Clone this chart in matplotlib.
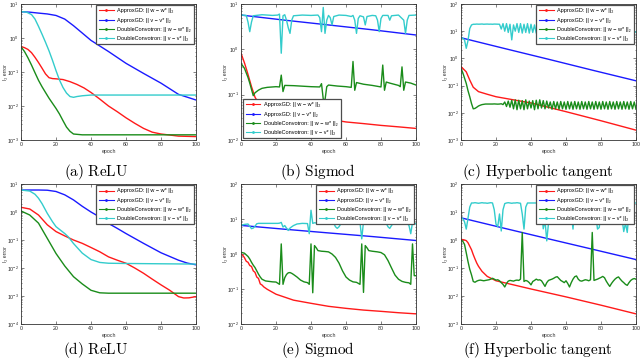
import matplotlib
matplotlib.use('Agg')
import matplotlib.pyplot as plt
from matplotlib.lines import Line2D
from matplotlib.ticker import LogLocator, FixedLocator, NullFormatter
import numpy as np

plt.rcParams['font.family'] = ['Liberation Sans', 'DejaVu Sans']

# ---------------- data ----------------
EPOCH_TICKS = [0, 20, 40, 60, 80, 100]
SERIES_LABELS = ['ApproxGD: || w \u2212 w* ||\u2082',
                 'ApproxGD: || v \u2212 v* ||\u2082',
                 'DoubleConvotron: || w \u2212 w* ||\u2082',
                 'DoubleConvotron: || v \u2212 v* ||\u2082']
CAPTIONS = ['(a) ReLU', '(b) Sigmod', '(c) Hyperbolic tangent',
            '(d) ReLU', '(e) Sigmod', '(f) Hyperbolic tangent']

# (a) ReLU
A_EP_RED = [0, 2, 4, 6, 8, 10, 12, 14, 16, 18, 20, 24, 28, 32, 36, 40, 45, 50, 55, 60, 65, 70, 75, 80, 85, 90, 95, 100]
A_RED = [0.56, 0.52, 0.46, 0.37, 0.27, 0.19, 0.13, 0.088, 0.068, 0.064, 0.063, 0.060, 0.052, 0.043, 0.034, 0.025,
         0.016, 0.010, 0.0068, 0.0045, 0.0031, 0.0022, 0.0017, 0.0015, 0.0014, 0.0013, 0.00128, 0.00126]
A_EP_BLUE = [0, 5, 10, 15, 20, 25, 30, 35, 40, 50, 60, 70, 80, 90, 100]
A_BLUE = [5.96, 5.75, 5.4, 5.1, 4.6, 3.6, 2.3, 1.4, 0.85, 0.40, 0.18, 0.091, 0.047, 0.022, 0.015]
A_EP_GREEN = [0, 2, 4, 6, 8, 10, 12, 14, 16, 18, 20, 22, 24, 26, 28, 30, 35, 100]
A_GREEN = [0.55, 0.40, 0.26, 0.16, 0.095, 0.057, 0.037, 0.025, 0.017, 0.012, 0.0085, 0.0058, 0.0037, 0.0024,
           0.0018, 0.0015, 0.00142, 0.00142]
A_EP_CYAN = [0, 3, 6, 8, 10, 12, 14, 16, 18, 20, 22, 24, 26, 28, 30, 32, 35, 40, 100]
A_CYAN = [5.96, 5.8, 4.9, 3.6, 2.2, 1.3, 0.75, 0.42, 0.22, 0.11, 0.058, 0.035, 0.024, 0.019, 0.018, 0.019,
          0.020, 0.021, 0.021]

# (b) Sigmod
B_EP_RED = [0, 2, 4, 6, 8, 10, 15, 20, 30, 40, 50, 60, 70, 80, 90, 100]
B_RED = [0.82, 0.50, 0.28, 0.15, 0.088, 0.065, 0.055, 0.047, 0.040, 0.033, 0.029, 0.025, 0.023, 0.021, 0.0195, 0.018]
B_EP_BLUE = [0, 25, 50, 75, 100]
B_BLUE = [5.7, 4.4, 3.45, 2.7, 2.07]
B_EP_GREEN = [0, 2, 4, 5, 7, 8, 10, 12, 15, 20, 22, 23, 24, 25, 30, 40, 45, 46, 47, 48, 49, 50, 55, 60, 63, 64,
              65, 66, 70, 75, 80, 81, 82, 83, 85, 90, 91, 92, 93, 94, 97, 100]
B_GREEN = [0.49, 0.38, 0.24, 0.18, 0.095, 0.11, 0.126, 0.138, 0.145, 0.150, 0.148, 0.27, 0.117, 0.16, 0.158,
           0.150, 0.148, 0.175, 0.08, 0.076, 0.15, 0.163, 0.155, 0.150, 0.145, 0.54, 0.125, 0.185, 0.170, 0.160,
           0.148, 0.45, 0.125, 0.19, 0.18, 0.160, 0.150, 0.41, 0.125, 0.19, 0.18, 0.163]
B_EP_CYAN = [0, 3, 4, 5, 6, 7, 12, 18, 21, 22, 23, 24, 25, 26, 27, 28, 29, 30, 35, 40, 44, 45, 46, 47, 48, 49,
             50, 51, 52, 53, 56, 60, 63, 64, 65, 66, 67, 68, 70, 71, 72, 75, 77, 78, 79, 80, 81, 84, 85, 86, 90,
             93, 94, 95, 96, 100]
B_CYAN = [5.7, 5.6, 4.0, 2.45, 4.0, 5.5, 5.8, 5.6, 5.7, 6.0, 0.82, 5.5, 5.8, 4.4, 3.0, 2.25, 4.4, 5.5, 5.7,
          5.6, 5.7, 5.0, 2.45, 8.4, 2.25, 4.4, 5.6, 5.0, 3.45, 5.3, 5.7, 5.6, 5.3, 5.6, 4.4, 2.25, 4.8, 5.5, 5.2,
          3.45, 5.3, 5.6, 5.5, 4.4, 2.45, 4.8, 5.6, 5.6, 4.4, 5.5, 5.7, 4.4, 2.25, 4.4, 5.6, 5.7]

# (c) Hyperbolic tangent
C_EP_RED = [0, 3, 5, 7, 10, 15, 20, 40, 60, 80, 100]
C_RED = [0.50, 0.32, 0.16, 0.087, 0.060, 0.048, 0.039, 0.023, 0.011, 0.0051, 0.0023]
C_EP_BLUE = [0, 25, 50, 75, 100]
C_BLUE = [5.75, 2.3, 0.93, 0.37, 0.15]
C_GREEN = [0.43, 0.30, 0.19, 0.12, 0.065, 0.039, 0.022, 0.014, 0.0145, 0.016,            # 0-9
           0.0178, 0.019, 0.020, 0.0205, 0.021, 0.021, 0.021, 0.021, 0.021, 0.0212,       # 10-19
           0.021, 0.0208, 0.021, 0.0215, 0.020, 0.025, 0.017, 0.027, 0.016, 0.029,        # 20-29
           0.014, 0.030, 0.013, 0.029, 0.014, 0.028, 0.013, 0.030, 0.014, 0.027,          # 30-39
           0.015, 0.028, 0.013, 0.029, 0.014, 0.030, 0.015, 0.028, 0.014, 0.027,          # 40-49
           0.015, 0.025, 0.0135, 0.026, 0.014, 0.025, 0.0135, 0.026, 0.014, 0.025,        # 50-59
           0.0135, 0.026, 0.014, 0.025, 0.0135, 0.026, 0.014, 0.025, 0.0135, 0.026,       # 60-69
           0.014, 0.025, 0.0135, 0.026, 0.014, 0.025, 0.0135, 0.026, 0.014, 0.025,        # 70-79
           0.0135, 0.026, 0.014, 0.025, 0.0135, 0.026, 0.014, 0.025, 0.0135, 0.026,       # 80-89
           0.014, 0.025, 0.0135, 0.026, 0.014, 0.025, 0.0135, 0.026, 0.014, 0.025,        # 90-99
           0.0135]                                                                         # 100
C_CYAN = [5.75, 5.5, 4.8, 2.35, 4.5, 12.5, 17, 18, 18.0, 18.3,                            # 0-9
          18.1, 18.2, 18.4, 18.0, 18.2, 18.3, 18.1, 18.2, 18.0, 18.3,                     # 10-19
          18.2, 18.1, 18, 12, 19, 10, 19, 9, 18, 4.8,                                      # 20-29
          17, 10, 19, 9, 19, 8.5, 18, 9, 19, 8.5,                                          # 30-39
          18, 9, 17, 8.5, 16, 9, 18, 9, 18, 9,                                             # 40-49
          18, 9, 18, 9, 18, 9, 18, 9, 18, 9,                                               # 50-59
          18, 9, 18, 9, 18, 9, 18, 9, 18, 9,                                               # 60-69
          18, 9, 18, 9, 18, 9, 18, 9, 18, 9,                                               # 70-79
          18, 9, 18, 9, 18, 9, 18, 9, 18, 9,                                               # 80-89
          18, 9, 18, 9, 18, 9, 18, 9, 18, 9,                                               # 90-99
          9.5]                                                                             # 100

# (d) ReLU
D_EP_RED = [0, 5, 10, 15, 20, 25, 30, 35, 40, 45, 50, 55, 60, 65, 70, 75, 80, 85, 90, 93, 96, 100]
D_RED = [1.47, 1.28, 0.78, 0.35, 0.20, 0.14, 0.10, 0.076, 0.054, 0.038, 0.025, 0.019, 0.0148, 0.010, 0.0065,
         0.004, 0.0025, 0.0016, 0.00095, 0.00085, 0.00086, 0.00095]
D_EP_BLUE = [0, 10, 15, 20, 25, 30, 35, 40, 45, 50, 55, 60, 70, 80, 90, 95, 100]
D_BLUE = [6.1, 6.1, 6.0, 5.4, 4.1, 2.7, 1.6, 1.0, 0.66, 0.39, 0.26, 0.17, 0.076, 0.035, 0.019, 0.015, 0.013]
D_EP_GREEN = [0, 5, 10, 15, 20, 25, 30, 35, 40, 45, 50, 100]
D_GREEN = [1.09, 0.78, 0.40, 0.115, 0.033, 0.0118, 0.0049, 0.0027, 0.0016, 0.0013, 0.00126, 0.00126]
D_EP_CYAN = [0, 5, 8, 10, 12, 15, 18, 20, 25, 27, 30, 35, 40, 45, 50, 60, 100]
D_CYAN = [6.1, 5.6, 4.3, 3.1, 2.0, 0.9, 0.45, 0.30, 0.17, 0.13, 0.075, 0.034, 0.020, 0.0158, 0.0148, 0.0145, 0.0138]

# (e) Sigmod
E_EP_RED = [0, 1, 2, 3, 4, 5, 6, 7, 8, 9, 10, 11, 12, 13, 15, 20, 30, 40, 50, 60, 70, 80, 90, 100]
E_RED = [1.0, 0.92, 0.78, 0.62, 0.58, 0.47, 0.44, 0.33, 0.30, 0.22, 0.20, 0.14, 0.13, 0.115, 0.098, 0.071,
         0.048, 0.039, 0.032, 0.028, 0.025, 0.023, 0.021, 0.0195]
E_EP_BLUE = [0, 25, 50, 75, 100]
E_BLUE = [6.56, 5.1, 4.0, 3.15, 2.43]
E_EP_GREEN = [0, 2, 4, 5, 6, 7, 8, 9, 10, 11, 12, 14, 16, 18, 20, 22, 23, 24, 25, 26, 27, 28, 29, 30, 32, 34,
              36, 38, 39, 40, 41, 42, 43, 44, 46, 48, 50, 52, 54, 56, 58, 60, 62, 64, 66, 68, 69, 70, 71, 72,
              73, 75, 78, 80, 82, 84, 86, 88, 90, 92, 94, 96, 97, 98, 99, 100]
E_GREEN = [1.12, 1.05, 0.85, 0.72, 0.58, 0.48, 0.41, 0.33, 0.265, 0.22, 0.19, 0.17, 0.165, 0.16, 0.158, 0.136,
           1.94, 0.136, 0.21, 0.26, 0.29, 0.295, 0.28, 0.26, 0.22, 0.18, 0.16, 0.152, 0.136, 1.94, 0.078, 1.74,
           1.5, 1.25, 1.2, 1.18, 1.15, 1.0, 0.8, 0.55, 0.33, 0.22, 0.18, 0.16, 0.155, 0.136, 1.94, 0.08, 1.74,
           1.5, 1.25, 1.2, 1.15, 1.1, 0.95, 0.65, 0.4, 0.25, 0.19, 0.165, 0.155, 0.15, 0.136, 1.94, 0.24, 0.24]
E_EP_CYAN = [0, 2, 4, 5, 6, 7, 8, 9, 10, 15, 21, 22, 23, 24, 25, 26, 27, 28, 29, 30, 32, 35, 38, 39, 40, 41,
             42, 45, 53, 54, 55, 56, 57, 60, 67, 68, 69, 70, 71, 75, 83, 84, 85, 86, 87, 95, 96, 97, 98, 99, 100]
E_CYAN = [6.6, 7.0, 7.2, 6.2, 5.3, 5.5, 6.2, 7.3, 7.5, 7.5, 7.5, 7.6, 8.0, 5.9, 6.5, 5.5, 4.7, 5.5, 6.0, 6.5,
          7.2, 7.5, 7.4, 3.8, 17.8, 7.5, 7.8, 7.5, 7.5, 6.0, 5.4, 6.0, 7.2, 7.5, 7.5, 8.0, 2.7, 8.5, 7.5, 7.5,
          7.5, 6.0, 5.4, 6.5, 7.5, 7.5, 6.5, 3.8, 8.0, 7.5, 7.3]

# (f) Hyperbolic tangent
F_EP_RED = [0, 2, 3, 4, 5, 6, 7, 8, 9, 10, 12, 15, 20, 30, 40, 60, 80, 100]
F_RED = [1.06, 1.0, 0.95, 0.8, 0.60, 0.45, 0.30, 0.21, 0.15, 0.115, 0.076, 0.050, 0.035, 0.025, 0.0178,
         0.0093, 0.0047, 0.0023]
F_EP_BLUE = [0, 25, 50, 75, 100]
F_BLUE = [6.2, 2.6, 1.1, 0.47, 0.2]
F_GREEN = [1.0, 0.9, 0.70, 0.35, 0.17, 0.09, 0.057, 0.033, 0.031, 0.034,                  # 0-9
           0.036, 0.037, 0.036, 0.035, 0.036, 0.037, 0.038, 0.040, 0.043, 0.040,          # 10-19
           0.037, 0.038, 0.035, 0.030, 0.026, 0.021, 0.028, 0.034, 0.036, 0.035,          # 20-29
           0.034, 0.036, 0.037, 0.036, 0.040, 1.86, 0.033, 0.036, 0.034, 0.030,           # 30-39
           0.025, 0.033, 0.036, 0.040, 0.037, 0.038, 0.035, 0.028, 0.022, 0.030,          # 40-49
           0.036, 0.038, 0.040, 0.043, 0.047, 0.049, 0.042, 0.036, 0.033, 0.030,          # 50-59
           0.035, 0.028, 0.021, 0.030, 0.040, 0.049, 0.052, 0.040, 0.035, 0.034,          # 60-69
           0.036, 0.038, 0.037, 0.035, 0.038, 1.86, 0.036, 0.038, 0.040, 0.043,           # 70-79
           0.046, 0.050, 0.045, 0.034, 0.027, 0.022, 0.028, 0.034, 0.040, 0.045,          # 80-89
           0.048, 0.040, 0.034, 0.030, 0.026, 0.024, 0.030, 0.036, 0.040, 0.042,          # 90-99
           0.040]                                                                          # 100
F_CYAN = [6.2, 5.8, 4.5, 2.45, 6.0, 15, 21, 21, 21.5, 21,                                 # 0-9
          20.5, 21, 21.5, 21, 21, 20.5, 21, 21.5, 21, 12,                                  # 10-19
          3.7, 3.0, 8.5, 2.1, 12, 20, 21, 21.5, 21, 20.5,                                  # 20-29
          21, 21, 21.5, 21, 20.5, 8.5, 2.45, 15, 21, 21,                                   # 30-39
          21, 21, 21, 21, 21, 21, 15, 2.5, 5, 0.93,                                        # 40-49
          4, 15, 21, 21, 21, 21, 21, 21, 21, 21,                                           # 50-59
          21, 21, 21, 10, 2.45, 15, 21, 21, 21, 21,                                        # 60-69
          21, 21, 21, 21, 21, 21, 21, 8, 2.45, 2.8,                                        # 70-79
          12, 21, 21, 21, 21, 21, 21, 21, 21, 21,                                          # 80-89
          21, 21, 6, 2.0, 4, 1.86, 10, 21, 21, 21,                                         # 90-99
          21]                                                                              # 100

YLIMS = [(1e-3, 1e1), (1e-2, 1e1), (1e-3, 1e2), (1e-4, 1e1), (1e-2, 1e2), (1e-3, 1e2)]

# ---------------- styling ----------------
COLORS = ['#ff1a1a', '#1a1aff', '#1a8c1a', '#33cccc']

panels = [
    [(A_EP_RED, A_RED), (A_EP_BLUE, A_BLUE), (A_EP_GREEN, A_GREEN), (A_EP_CYAN, A_CYAN)],
    [(B_EP_RED, B_RED), (B_EP_BLUE, B_BLUE), (B_EP_GREEN, B_GREEN), (B_EP_CYAN, B_CYAN)],
    [(C_EP_RED, C_RED), (C_EP_BLUE, C_BLUE), (np.arange(len(C_GREEN)), C_GREEN), (np.arange(len(C_CYAN)), C_CYAN)],
    [(D_EP_RED, D_RED), (D_EP_BLUE, D_BLUE), (D_EP_GREEN, D_GREEN), (D_EP_CYAN, D_CYAN)],
    [(E_EP_RED, E_RED), (E_EP_BLUE, E_BLUE), (E_EP_GREEN, E_GREEN), (E_EP_CYAN, E_CYAN)],
    [(F_EP_RED, F_RED), (F_EP_BLUE, F_BLUE), (np.arange(len(F_GREEN)), F_GREEN), (np.arange(len(F_CYAN)), F_CYAN)],
]

fig = plt.figure(figsize=(6.4, 3.61), dpi=100)
W, H = 640.0, 361.0
col_left = [21, 241, 461]
col_w = 175
rows = [(4, 140), (184, 324)]
cap_x = [96, 318, 538]
cap_y = [172, 350]
legend_cfg = [('upper right', (0.99, 0.99)), ('lower left', (0.01, 0.015)), ('upper right', (0.99, 0.99)),
              ('upper right', (0.99, 0.99)), ('upper right', (0.99, 0.99)), ('upper right', (0.99, 0.99))]

for i, series in enumerate(panels):
    r, c = divmod(i, 3)
    top, bot = rows[r]
    ax = fig.add_axes([col_left[c] / W, 1 - bot / H, col_w / W, (bot - top) / H])
    for (ep, vals), col in zip(series, COLORS):
        ax.plot(ep, vals, color=col, lw=1.0, solid_joinstyle='round')
    ax.set_yscale('log')
    ax.set_xlim(0, 100)
    ax.set_ylim(*YLIMS[i])
    ax.xaxis.set_major_locator(FixedLocator(EPOCH_TICKS))
    ax.yaxis.set_major_locator(LogLocator(base=10, numticks=12))
    ax.yaxis.set_minor_locator(LogLocator(base=10, subs=np.arange(2, 10), numticks=12))
    ax.yaxis.set_minor_formatter(NullFormatter())
    ax.tick_params(which='both', direction='in', top=True, right=True, labelsize=3.8, pad=1.5,
                   width=0.4, colors='0.15')
    ax.tick_params(which='major', length=2.0)
    ax.tick_params(which='minor', length=1.0)
    for sp in ax.spines.values():
        sp.set_linewidth(0.6)
        sp.set_color('0.2')
    ax.set_xlabel('epoch', fontsize=3.8, labelpad=1.5, color='0.2')
    ax.set_ylabel('l\u2082 error', fontsize=3.8, color='0.2')
    ax.yaxis.set_label_coords(-0.072, 0.5)
    handles = [Line2D([], [], color=col, lw=0.8, marker='.', ms=2) for col in COLORS]
    loc, anchor = legend_cfg[i]
    leg = ax.legend(handles, SERIES_LABELS, loc=loc, bbox_to_anchor=anchor, fontsize=4.0,
                    frameon=True, fancybox=False, framealpha=1, edgecolor='0.3', borderaxespad=0,
                    handlelength=2.6, handletextpad=0.7, labelspacing=0.75, borderpad=0.55)
    leg.get_frame().set_linewidth(0.9)
    fig.text(cap_x[c] / W, 1 - cap_y[r] / H, r'$\mathrm{' + CAPTIONS[i].replace(' ', r'\ ') + '}$',
             ha='center', va='center', fontsize=11, math_fontfamily='cm')

fig.savefig('out.png', dpi=100)
